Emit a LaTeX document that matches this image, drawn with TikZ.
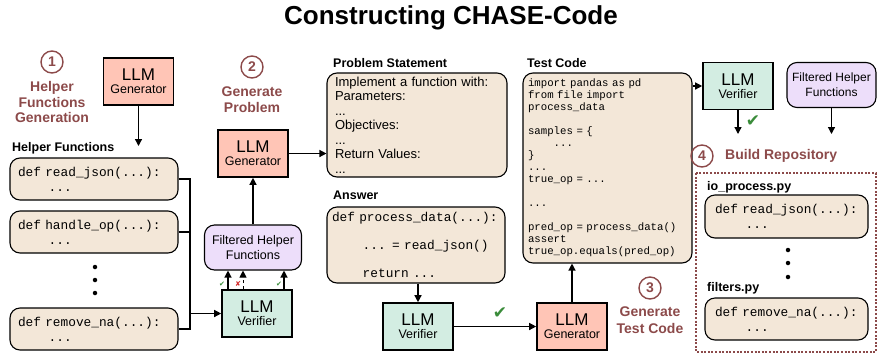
\documentclass[tikz,border=0pt]{standalone}
\usepackage{fontspec}
\setmainfont{Liberation Sans}
\setmonofont{Liberation Mono}
\newfontfamily\symbfont{DejaVu Sans}
\usetikzlibrary{arrows.meta}
\definecolor{codebg}{RGB}{243,231,216}
\definecolor{genfill}{RGB}{255,197,182}
\definecolor{verfill}{RGB}{211,237,226}
\definecolor{filtfill}{RGB}{237,222,250}
\definecolor{stepcol}{RGB}{140,74,74}
\definecolor{okgreen}{RGB}{58,140,58}
\definecolor{badred}{RGB}{210,40,40}
\newcommand{\codeind}{\hspace*{2.4em}}
\newcommand{\llmtext}[1]{{\fontsize{17}{19}\selectfont LLM}\\[1pt]{\fontsize{12.5}{14}\selectfont #1}}

\begin{document}
\begin{tikzpicture}[x=1pt,y=-1pt,
    codebox/.style={draw, line width=1.1pt, rounded corners=10pt, fill=codebg, align=left,
        inner xsep=8pt, inner ysep=0pt, font=\ttfamily\fontsize{12.8}{15}\selectfont},
    llmbox/.style={draw, line width=1.6pt, minimum width=70pt, minimum height=47pt,
        inner sep=0pt, align=center},
    filtbox/.style={draw, line width=1.1pt, rounded corners=10pt, fill=filtfill, align=center,
        minimum height=45pt, inner sep=0pt, font=\fontsize{12.5}{15}\selectfont},
    boxlabel/.style={anchor=west, inner sep=0pt, font=\bfseries\fontsize{12.5}{14}\selectfont},
    stepnum/.style={circle, draw=stepcol, line width=1.4pt, text=stepcol, inner sep=0pt,
        minimum size=22pt, font=\bfseries\fontsize{14}{14}\selectfont},
    steptext/.style={text=stepcol, align=center, inner sep=0pt, font=\bfseries\fontsize{14}{15.5}\selectfont},
    arr/.style={line width=1.3pt, -{Triangle[length=7pt,width=7pt]}},
    tick/.style={text=okgreen, inner sep=0pt, font=\symbfont\fontsize{17}{17}\selectfont},
    dot/.style={circle, fill=black, inner sep=0pt, minimum size=4.5pt}]
\useasboundingbox (0,0) rectangle (878,354);

% title
\node[font=\bfseries\fontsize{26}{28}\selectfont] (title) at (451,18) {Constructing CHASE-Code};

% step 1: helper functions
\node[stepnum] (s1) at (52,62) {1};
\node[steptext] (s1txt) at (52,102) {Helper\\Functions\\Generation};
\node[llmbox, fill=genfill] (gen1) at (138.5,81.5) {\llmtext{Generator}};
\coordinate (gen1end) at (138.5,146);
\node[boxlabel] (hflab) at (12,148) {Helper Functions};
\node[codebox, text width=152pt, minimum height=42pt] (hf1) at (94,179) {def read\_json(...):\\\codeind...};
\node[codebox, text width=152pt, minimum height=42pt] (hf2) at (94,232) {def handle\_op(...):\\\codeind...};
\node[dot] (d1) at (95,267) {};
\node[dot] (d2) at (95,280) {};
\node[dot] (d3) at (95,293) {};
\node[codebox, text width=152pt, minimum height=42pt] (hf3) at (94,329) {def remove\_na(...):\\\codeind...};
\coordinate (bus) at (190,329);

% step 2: problem
\node[stepnum] (s2) at (252,67) {2};
\node[steptext] (s2txt) at (252,99.5) {Generate\\Problem};
\node[llmbox, fill=genfill] (gen2) at (253,153.5) {\llmtext{Generator}};
\node[filtbox, minimum width=97pt] (fil1) at (253,247.5) {Filtered Helper\\Functions};
\node[llmbox, fill=verfill] (ver1) at (257,313.5) {\llmtext{Verifier}};
\node[tick, font=\symbfont\fontsize{7}{7}\selectfont] (ck1) at (222,284) {✔};
\node[tick, text=badred, font=\symbfont\fontsize{7}{7}\selectfont] (cr1) at (238,284) {✘};
\node[tick, font=\symbfont\fontsize{7}{7}\selectfont] (ck2) at (279,284) {✔};

\node[boxlabel] (pslab) at (333,63) {Problem Statement};
\node[codebox, font=\fontsize{13}{14.5}\selectfont, text width=164pt, minimum height=104pt] (prob) at (417,125)
    {Implement a function with:\\Parameters:\\...\\Objectives:\\...\\Return Values:\\...};
\node[boxlabel] (anslab) at (333,195) {Answer};
\node[codebox, inner xsep=5pt, font=\ttfamily\fontsize{12.8}{14}\selectfont, text width=168pt, minimum height=76pt] (ans) at (416,245)
    {def process\_data(...):\\[14pt]\codeind... = read\_json()\\[14pt]\codeind return ...};
\node[llmbox, fill=verfill] (ver2) at (418,326.5) {\llmtext{Verifier}};
\node[tick] (ck3) at (500,313) {✔};

% step 3: test code
\node[boxlabel] (tclab) at (527,63) {Test Code};
\node[codebox, inner xsep=5pt, font=\ttfamily\fontsize{10.7}{12}\selectfont, text width=159pt, minimum height=190pt] (test) at (607.5,168)
    {import pandas as pd\\from file import\\process\_data\\[12pt]samples = \{\\\codeind...\\\}\\...\\true\_op = ...\\[12pt]...\\[12pt]pred\_op = process\_data()\\assert\\true\_op.equals(pred\_op)};
\node[llmbox, fill=genfill] (gen3) at (572,326.5) {\llmtext{Generator}};
\node[stepnum] (s3) at (650,288) {3};
\node[steptext, font=\bfseries\fontsize{14}{17}\selectfont] (s3txt) at (650,320.5) {Generate\\Test Code};

% step 4: repository
\node[llmbox, fill=verfill] (ver3) at (738,86) {\llmtext{Verifier}};
\node[tick] (ck4) at (753,121) {✔};
\coordinate (ver3end) at (738,134);
\node[filtbox, minimum width=89pt, font=\fontsize{12}{15}\selectfont] (fil2) at (831.5,85) {Filtered Helper\\Functions};
\coordinate (fil2end) at (831.5,134);
\node[stepnum] (s4) at (702,156) {4};
\node[steptext, anchor=west] (s4txt) at (725,156) {Build Repository};
\draw[stepcol, line width=2pt, dash pattern=on 2pt off 1.6pt] (696,173) rectangle (876,352);
\node[boxlabel] (iolab) at (707,187) {io\_process.py};
\node[codebox, inner xsep=10pt, text width=143pt, minimum height=43pt] (rp1) at (786.5,216.5) {def read\_json(...):\\\codeind...};
\node[dot] (d4) at (788,250) {};
\node[dot] (d5) at (788,263) {};
\node[dot] (d6) at (788,277) {};
\node[boxlabel] (filab) at (707,288) {filters.py};
\node[codebox, inner xsep=10pt, text width=143pt, minimum height=42pt] (rp2) at (786.5,319) {def remove\_na(...):\\\codeind...};

% connectors
\draw[arr] (gen1.south) -- (gen1end);
\draw[line width=1.3pt] (hf1.east) -| (bus) -- (hf3.east);
\draw[line width=1.3pt] (hf2.east) -- (hf2.east -| bus);
\draw[arr] (ver1.west -| bus) -- (ver1.west);
\draw[arr] ([xshift=-29pt]ver1.north) -- ([xshift=-29pt]ver1.north |- fil1.south);
\draw[arr, line width=1pt, dashed] ([xshift=-14pt]ver1.north) -- ([xshift=-14pt]ver1.north |- fil1.south);
\draw[arr] ([xshift=27pt]ver1.north) -- ([xshift=27pt]ver1.north |- fil1.south);
\draw[arr] (fil1.north) -- (gen2.south);
\draw[arr] (gen2.east) -- (gen2.east -| prob.west);
\draw[arr] (ver2.north |- ans.south) -- (ver2.north);
\draw[arr] (ver2.east) -- (gen3.west);
\draw[arr] (gen3.north) -- (gen3.north |- test.south);
\draw[arr] (ver3.west -| test.east) -- (ver3.west);
\draw[arr] (ver3.south) -- (ver3end);
\draw[arr] (fil2.south) -- (fil2end);
\end{tikzpicture}
\end{document}
